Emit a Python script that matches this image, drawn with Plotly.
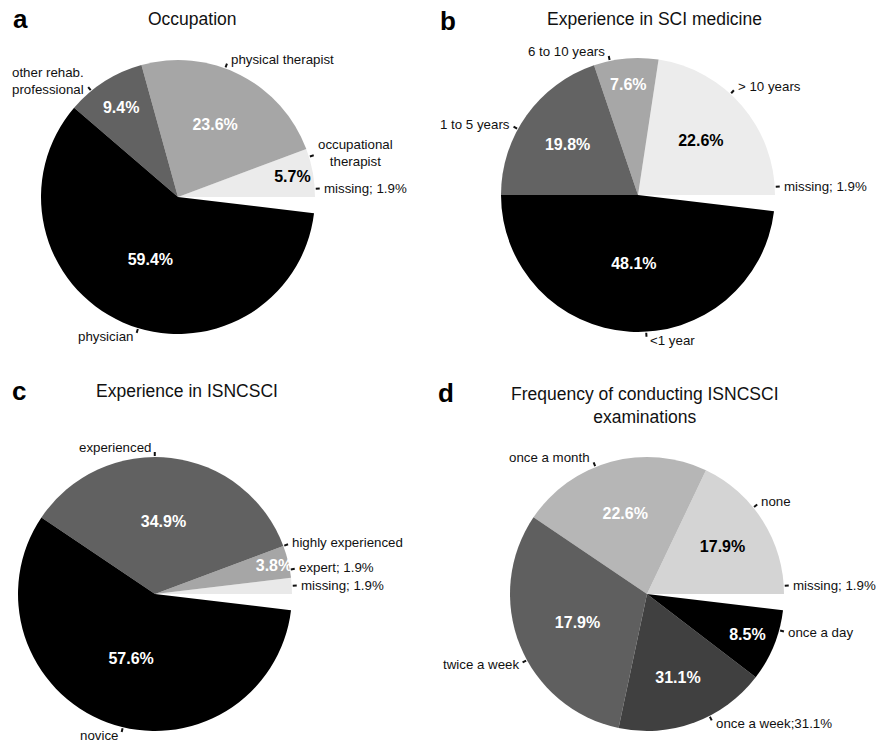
import math
import plotly.graph_objects as go

FONT = "Liberation Sans, Arial, Helvetica, sans-serif"
W, H = 876, 742

# ---------------- data ----------------
# (a) Occupation
a_labels = ["missing; 1.9%", "occupational<br>therapist", "physical therapist",
            "other rehab.<br>professional", "physician"]
a_values = [1.9, 5.7, 23.6, 9.4, 59.4]
a_text = ["", "5.7%", "23.6%", "9.4%", "59.4%"]

# (b) Experience in SCI medicine
b_labels = ["missing; 1.9%", "> 10 years", "6 to 10 years", "1 to 5 years", "<1 year"]
b_values = [1.9, 22.6, 7.6, 19.8, 48.1]
b_text = ["", "22.6%", "7.6%", "19.8%", "48.1%"]

# (c) Experience in ISNCSCI
c_labels = ["missing; 1.9%", "expert; 1.9%", "highly experienced", "experienced", "novice"]
c_values = [1.9, 1.9, 3.8, 34.9, 57.6]
c_text = ["", "", "3.8%", "34.9%", "57.6%"]

# (d) Frequency of conducting ISNCSCI examinations
d_labels = ["missing; 1.9%", "none", "once a month", "twice a week",
            "once a week;31.1%", "once a day"]
d_values = [1.9, 17.9, 22.6, 31.1, 17.9, 8.5]
d_text = ["", "17.9%", "22.6%", "17.9%", "31.1%", "8.5%"]

# ---------------- styles ----------------
a_colors = ["#ffffff", "#ebebeb", "#a6a6a6", "#626262", "#000000"]
a_tcol = ["#000", "#000", "#fff", "#fff", "#fff"]
b_colors = ["#ffffff", "#ececec", "#a7a7a7", "#636363", "#000000"]
b_tcol = ["#000", "#000", "#fff", "#fff", "#fff"]
c_colors = ["#ffffff", "#e9e9e9", "#a6a6a6", "#616161", "#000000"]
c_tcol = ["#000", "#000", "#fff", "#fff", "#fff"]
d_colors = ["#ffffff", "#d4d4d4", "#b6b6b6", "#5f5f5f", "#404040", "#000000"]
d_tcol = ["#000", "#000", "#fff", "#fff", "#fff", "#fff"]

panels = [
    dict(letter="a", title="Occupation", cx=178, cy=197, r=137,
         tx=192, ty=19, lx=20, ly=19,
         labels=a_labels, values=a_values, text=a_text, colors=a_colors, tcol=a_tcol),
    dict(letter="b", title="Experience in SCI medicine", cx=638, cy=195, r=137,
         tx=654, ty=19, lx=448, ly=21,
         labels=b_labels, values=b_values, text=b_text, colors=b_colors, tcol=b_tcol),
    dict(letter="c", title="Experience in ISNCSCI", cx=155, cy=594, r=137,
         tx=187, ty=391, lx=19, ly=391,
         labels=c_labels, values=c_values, text=c_text, colors=c_colors, tcol=c_tcol),
    dict(letter="d", title="Frequency of conducting ISNCSCI<br>examinations", cx=647, cy=594, r=137,
         tx=645, ty=405, lx=446, ly=393,
         labels=d_labels, values=d_values, text=d_text, colors=d_colors, tcol=d_tcol),
]


def px(x):
    return x / W


def py(y):
    return 1 - y / H


fig = go.Figure()
shapes = []
annotations = []

for p in panels:
    cx, cy, r = p["cx"], p["cy"], p["r"]
    fig.add_trace(go.Pie(
        labels=p["labels"], values=p["values"], text=p["text"],
        texttemplate="%{text}", textinfo="text",
        textposition="inside", insidetextorientation="horizontal",
        insidetextfont=dict(family=FONT, size=16, color=p["tcol"], weight="bold"),
        marker=dict(colors=p["colors"], line=dict(width=0)),
        sort=False, direction="counterclockwise", rotation=90,
        domain=dict(x=[px(cx - r), px(cx + r)], y=[py(cy + r), py(cy - r)]),
        hoverinfo="label+percent", showlegend=False,
    ))

    total = sum(p["values"])
    cum = 0.0
    for lab, v in zip(p["labels"], p["values"]):
        mid = (cum + v / 2) / total * 2 * math.pi
        cum += v
        c, s = math.cos(mid), math.sin(mid)
        r1, r2 = r + 1, r + 5
        shapes.append(dict(type="line", xref="paper", yref="paper",
                           x0=px(cx + r1 * c), y0=py(cy - r1 * s),
                           x1=px(cx + r2 * c), y1=py(cy - r2 * s),
                           line=dict(color="#111111", width=2)))
        nlines = lab.count("<br>") + 1
        k = 5 if s > 0 else 4
        yshift = s * k * (1.6 if nlines > 1 else 1.0)
        annotations.append(dict(
            text=lab, xref="paper", yref="paper",
            x=px(cx + r2 * c), y=py(cy - r2 * s),
            xanchor="left" if c >= 0 else "right", yanchor="middle",
            xshift=2 if c >= 0 else -2, yshift=yshift,
            showarrow=False, align="center",
            font=dict(family=FONT, size=13.3, color="#111111"),
        ))

    # title and panel letter
    annotations.append(dict(text=p["title"], xref="paper", yref="paper",
                            x=px(p["tx"]), y=py(p["ty"]), xanchor="center", yanchor="middle",
                            showarrow=False, align="center",
                            font=dict(family=FONT, size=17.5, color="#111111")))
    annotations.append(dict(text="<b>%s</b>" % p["letter"], xref="paper", yref="paper",
                            x=px(p["lx"]), y=py(p["ly"]), xanchor="center", yanchor="middle",
                            showarrow=False,
                            font=dict(family=FONT, size=26, color="#000000")))

fig.update_layout(
    width=W, height=H, autosize=False,
    margin=dict(l=0, r=0, t=0, b=0),
    paper_bgcolor="white", plot_bgcolor="white",
    shapes=shapes, annotations=annotations,
    uniformtext=dict(minsize=16, mode="show"),
    font=dict(family=FONT),
)

fig.write_html("out.html",
               config={"displayModeBar": False},
               post_script="document.body.style.margin='0';"
                           "document.body.style.overflow='hidden';")
